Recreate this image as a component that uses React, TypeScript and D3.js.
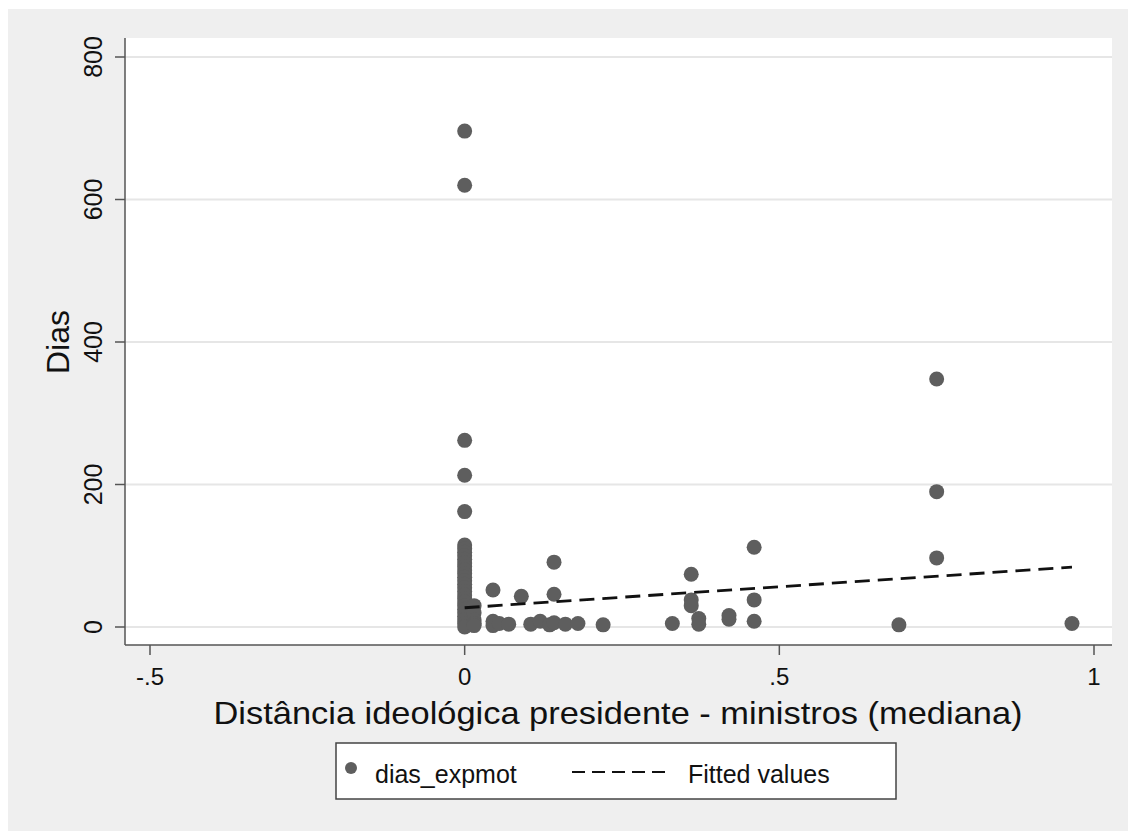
import React from 'react';
import * as d3 from 'd3';

// x positions (ideological distance) and days
const pointX = [
  0, 0, 0, 0, 0,
  0, 0, 0, 0, 0, 0, 0, 0, 0, 0, 0, 0, 0, 0, 0, 0, 0, 0, 0, 0, 0, 0, 0, 0,
  0.015, 0.015, 0.015, 0.015, 0.015,
  0.045, 0.045, 0.045, 0.055, 0.07, 0.09, 0.105, 0.12, 0.135,
  0.142, 0.142, 0.142, 0.16, 0.18, 0.22, 0.33,
  0.36, 0.36, 0.36, 0.372, 0.372, 0.42, 0.42,
  0.46, 0.46, 0.46, 0.69, 0.75, 0.75, 0.75, 0.965,
];
const pointDias = [
  696, 620, 262, 213, 162,
  115, 110, 105, 100, 95, 90, 85, 80, 75, 70, 65, 60, 55, 50, 45, 40, 35, 30, 25, 20, 15, 10, 5, 0,
  30, 20, 10, 5, 2,
  52, 8, 2, 5, 4, 43, 4, 8, 3,
  91, 46, 6, 4, 5, 3, 5,
  74, 38, 30, 12, 4, 16, 11,
  112, 38, 8, 3, 348, 190, 97, 5,
];
const fittedX = [0, 0.965];
const fittedY = [27, 84];

const xTicks = [-0.5, 0, 0.5, 1];
const xTickLabels = ['-.5', '0', '.5', '1'];
const yTicks = [0, 200, 400, 600, 800];

const W = 1128;
const H = 831;

export default function App() {
  const x = d3.scaleLinear().domain([-0.5, 1]).range([150, 1094]);
  const y = d3.scaleLinear().domain([0, 800]).range([627, 57]);
  const plotLeft = 125, plotRight = 1112, plotTop = 38, plotBottom = 645;

  const line = d3.line<number>()
    .x((d) => x(d))
    .y((d, i) => y(fittedY[i]));

  const font = 'Liberation Sans, Arial, Helvetica, sans-serif';

  return (
    <svg width={W} height={H} style={{ position: 'absolute', left: 0, top: 0 }} fontFamily={font}>
      <rect x={0} y={0} width={W} height={H} fill="#ffffff" />
      <rect x={8} y={9} width={W - 8} height={H - 9} fill="#efefef" />
      <rect x={plotLeft} y={plotTop} width={plotRight - plotLeft} height={plotBottom - plotTop} fill="#ffffff" />

      {/* gridlines */}
      {yTicks.map((t) => (
        <line key={'g' + t} x1={plotLeft} x2={plotRight} y1={y(t)} y2={y(t)} stroke="#e6e6e6" strokeWidth={2} />
      ))}

      {/* points */}
      {pointX.map((px, i) => (
        <circle key={'p' + i} cx={x(px)} cy={y(pointDias[i])} r={7.5} fill="#5e5e5e" />
      ))}

      {/* fitted line */}
      <path d={line(fittedX) || ''} fill="none" stroke="#111" strokeWidth={2.8} strokeDasharray="15 8" />

      {/* axes */}
      <line x1={plotLeft} x2={plotLeft} y1={plotTop} y2={plotBottom} stroke="#555" strokeWidth={1.5} />
      <line x1={plotLeft} x2={plotRight} y1={plotBottom} y2={plotBottom} stroke="#555" strokeWidth={1.5} />

      {yTicks.map((t) => (
        <g key={'yt' + t}>
          <line x1={plotLeft - 10} x2={plotLeft} y1={y(t)} y2={y(t)} stroke="#555" strokeWidth={1.5} />
          <text transform={`translate(102, ${y(t)}) rotate(-90)`} textAnchor="middle" fontSize={25} fill="#111">{t}</text>
        </g>
      ))}

      {xTicks.map((t, i) => (
        <g key={'xt' + t}>
          <line x1={x(t)} x2={x(t)} y1={plotBottom} y2={plotBottom + 10} stroke="#555" strokeWidth={1.5} />
          <text x={x(t)} y={685} textAnchor="middle" fontSize={24} fill="#111">{xTickLabels[i]}</text>
        </g>
      ))}

      <text transform="translate(69, 342) rotate(-90)" textAnchor="middle" fontSize={32} fill="#111">Dias</text>
      <text x={618} y={724} textAnchor="middle" fontSize={32} fill="#111" textLength={809} lengthAdjust="spacingAndGlyphs">
        Distância ideológica presidente - ministros (mediana)
      </text>

      {/* legend */}
      <rect x={336} y={743} width={560} height={56} fill="#ffffff" stroke="#444" strokeWidth={1.5} />
      <circle cx={351} cy={768} r={6} fill="#5e5e5e" />
      <text x={375} y={783} fontSize={25} fill="#111">dias_expmot</text>
      <line x1={572} x2={668} y1={772} y2={772} stroke="#111" strokeWidth={2} strokeDasharray="13 7" />
      <text x={688} y={783} fontSize={25} fill="#111">Fitted values</text>
    </svg>
  );
}
